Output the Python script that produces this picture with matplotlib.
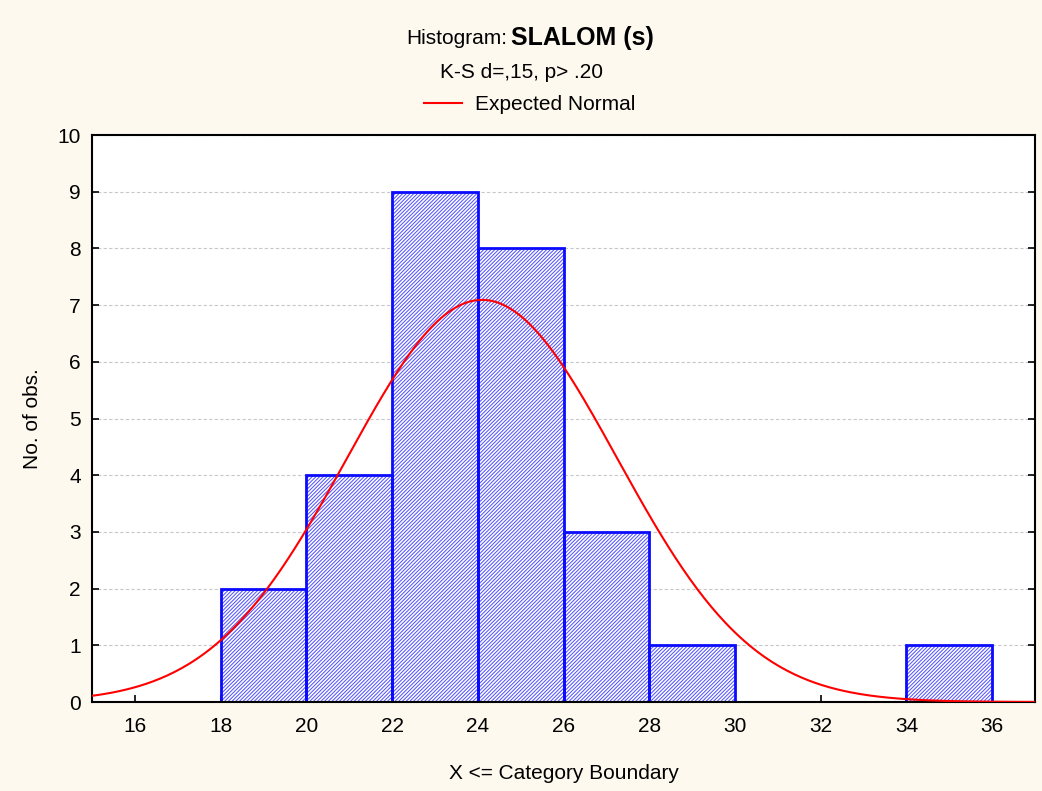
import numpy as np
import matplotlib.pyplot as plt

# histogram counts per category (bin edges every 2 s)
bin_edges = [18, 20, 22, 24, 26, 28, 30, 32, 34, 36]
counts = [2, 4, 9, 8, 3, 1, 0, 0, 1]

# expected normal parameters
mean_s = 24.1
sd_s = 3.15
n_obs = sum(counts)
bin_w = 2

xticks = [16, 18, 20, 22, 24, 26, 28, 30, 32, 34, 36]
yticks = list(range(0, 11))

plt.rcParams['font.family'] = ['Liberation Sans', 'DejaVu Sans']
plt.rcParams['hatch.linewidth'] = 0.75

fig = plt.figure(figsize=(10.42, 7.91), dpi=100, facecolor='#fdf9ef')
ax = fig.add_axes([0.0883, 0.1125, 0.905, 0.7168])
ax.set_facecolor('white')

lefts = bin_edges[:-1]
for l, c in zip(lefts, counts):
    if c > 0:
        # hatched fill, then solid outline on top
        ax.bar(l, c, width=bin_w, align='edge', color='white',
               edgecolor='#5555ff', hatch='/////////', linewidth=0, zorder=2)
        ax.bar(l, c, width=bin_w, align='edge', fill=False,
               edgecolor='#0a0aff', linewidth=2.0, zorder=2.5)

xs = np.linspace(15, 37, 400)
ys = n_obs * bin_w / (sd_s * np.sqrt(2 * np.pi)) * np.exp(-0.5 * ((xs - mean_s) / sd_s) ** 2)
line, = ax.plot(xs, ys, color='#ff0000', lw=1.5, zorder=3, label='Expected Normal')

ax.set_xlim(15, 37)
ax.set_ylim(0, 10)
ax.set_xticks(xticks)
ax.set_yticks(yticks)
ax.tick_params(direction='in', length=5, width=1.2, labelsize=15, right=True, top=False)
ax.tick_params(axis='x', pad=11)
ax.tick_params(axis='y', pad=8)
ax.yaxis.grid(True, color='#c8c8c8', linestyle=(0, (3, 2)), lw=0.8, zorder=0)
ax.set_axisbelow(True)
for s in ax.spines.values():
    s.set_linewidth(1.5)
    s.set_color('black')

ax.set_xlabel('X <= Category Boundary', fontsize=15, labelpad=20)
ax.set_ylabel('No. of obs.', fontsize=15, labelpad=11)

fig.text(0.487, 1 - 38 / 791, 'Histogram:', ha='right', va='center', fontsize=15)
fig.text(0.490, 1 - 38 / 791, 'SLALOM (s)', ha='left', va='center', fontsize=18, fontweight='bold')
fig.text(0.5, 1 - 72 / 791, 'K-S d=,15, p> .20', ha='center', va='center', fontsize=15)
fig.legend(handles=[line], loc='center', bbox_to_anchor=(0.508, 1 - 105 / 791),
           frameon=False, fontsize=15, handlelength=1.85, handletextpad=0.6)

fig.savefig('out.png', dpi=100, facecolor=fig.get_facecolor())
